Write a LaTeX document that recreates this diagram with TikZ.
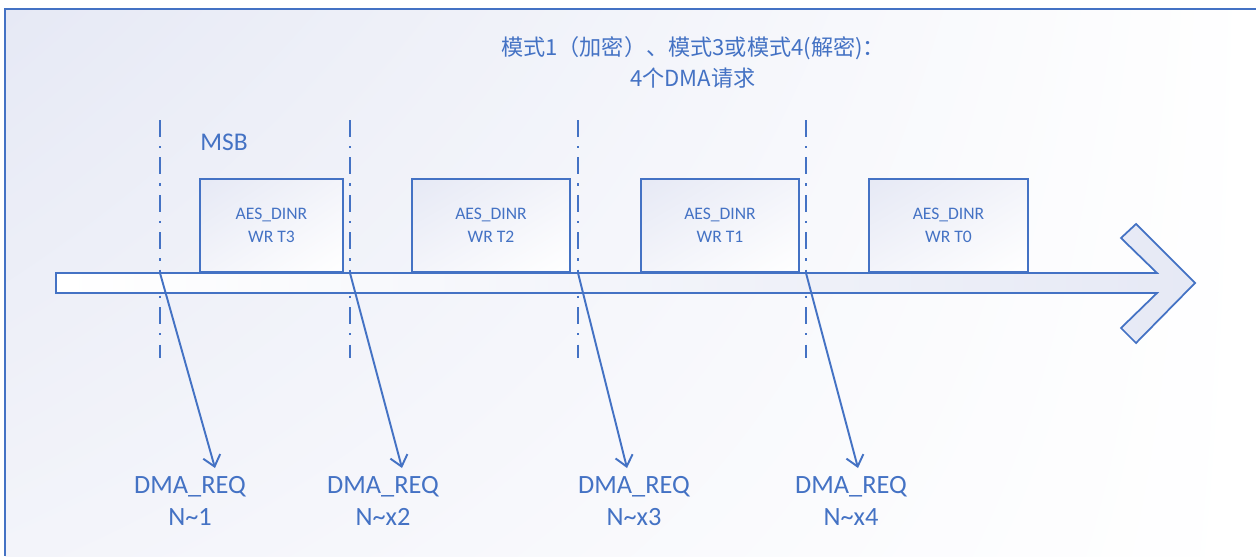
\documentclass[tikz,border=0pt]{standalone}
\usepackage{fontspec}
\setmainfont{Carlito}
\newfontfamily\cjk{Noto Sans CJK SC}
\usepackage{xcolor}
\usetikzlibrary{arrows.meta, positioning, shadings}

\definecolor{ofblue}{HTML}{4472C4}
\definecolor{bgtint}{HTML}{E6E9F5}
\definecolor{bgmid}{HTML}{F3F4FA}

\begin{document}
\begin{tikzpicture}[x=0.02cm, y=-0.02cm,
    >={Straight Barb[length=6pt, width=10pt]},
    regbox/.style={draw=ofblue, line width=1pt, upper left=bgtint, upper right=bgmid,
        lower left=bgmid, lower right=white, minimum height=1.86cm, inner sep=0pt,
        text=ofblue, align=center, font=\fontsize{10}{13}\selectfont},
    divline/.style={ofblue, line width=1.3pt,
        dash pattern=on 9.6pt off 5.2pt on 1.3pt off 5.2pt},
    reqarrow/.style={->, ofblue, line width=1.1pt},
    reqlabel/.style={text=ofblue, align=center, font=\fontsize{15}{18.7}\selectfont}]
    \useasboundingbox (0,0) rectangle (1256,556);

    % Nền và khung
    \shade[upper left=bgtint, upper right=white, lower left=bgmid, lower right=white]
        (5,9) rectangle (1256,556);
    \draw[ofblue, line width=1.2pt] (1256,9) -- (5,9) -- (5,556);

    % Tiêu đề
    \node[text=ofblue, align=center, font=\cjk\fontsize{12.6}{17.6}\selectfont] (head) at (693,62)
        {模式1（加密）、模式3或模式4(解密)：\\4个DMA请求};
    \node[text=ofblue, font=\fontsize{14.5}{17}\selectfont] (msb) at (224,142) {MSB};

    % Đường chia nét chấm gạch
    \foreach \i/\x in {1/160, 2/350, 3/578, 4/806} {
        \coordinate (cut\i) at (\x,273);
        \draw[divline] (\x,120) -- (\x,358);
    }

    % Mũi tên thời gian
    \shadedraw[draw=ofblue, line width=1pt, left color=white, right color=bgtint]
        (56,273) -- (1157,273) -- (1121,238) -- (1136,224) -- (1195,283)
        -- (1136,343) -- (1121,328) -- (1157,293) -- (56,293) -- cycle;

    % Các ô ghi AES_DINR
    \node[regbox, minimum width=2.86cm] (wr3) at (271.5,225.5) {AES\_DINR\\WR T3};
    \node[regbox, minimum width=3.16cm] (wr2) at (491,225.5) {AES\_DINR\\WR T2};
    \node[regbox, minimum width=3.16cm] (wr1) at (720,225.5) {AES\_DINR\\WR T1};
    \node[regbox, minimum width=3.18cm] (wr0) at (948.5,225.5) {AES\_DINR\\WR T0};

    % Yêu cầu DMA
    \foreach \i/\tx/\lx/\n in {1/215/190/1, 2/402/383/x2, 3/627/634/x3, 4/858/851/x4} {
        \coordinate (hit\i) at (\tx,468);
        \node[reqlabel] (req\i) at (\lx,501) {DMA\_REQ\\N\textasciitilde\n};
        \draw[reqarrow] (cut\i) -- (hit\i);
    }
\end{tikzpicture}
\end{document}
